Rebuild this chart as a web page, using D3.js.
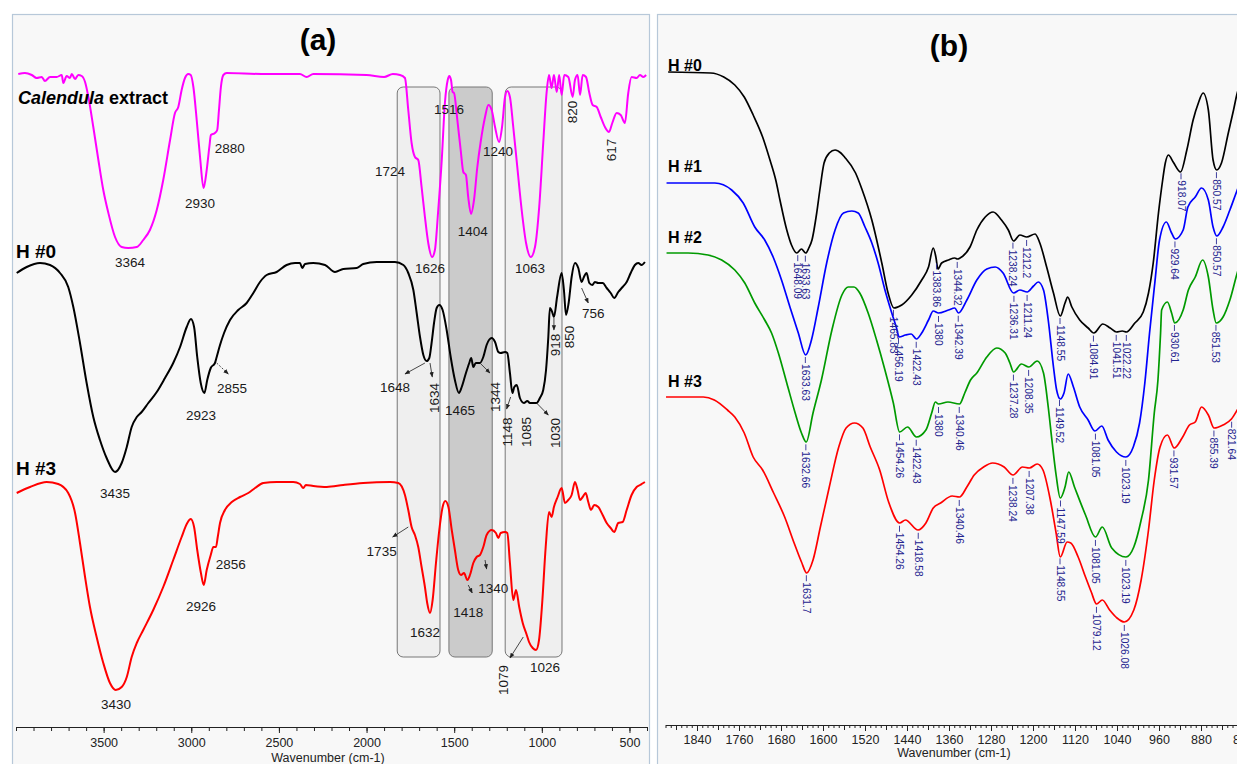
<!DOCTYPE html>
<html><head><meta charset="utf-8">
<script src="https://cdn.jsdelivr.net/npm/d3@7"></script>
<style>body{margin:0;background:#fff;} svg{display:block;font-family:"Liberation Sans",Arial,sans-serif;}</style>
</head><body><svg id="c" width="1237" height="764"></svg>
<script>
// ---------- Panel (a) data: [wavenumber, transmittance (a.u., offset)] ----------
const calendulaA = [[3987,65.3],[3949,65.4],[3910,65.2],[3882,64.9],[3853,65.0],[3835,64.6],[3806,65.0],[3768,65.0],[3739,65.2],[3730,64.4],[3711,65.1],[3692,64.9],[3682,65.3],[3663,64.8],[3645,65.2],[3625,65.1],[3606,64.5],[3587,63.0],[3559,60.0],[3530,56.7],[3502,53.7],[3473,51.4],[3435,49.0],[3397,48.0],[3360,47.9],[3311,48.0],[3274,48.7],[3236,49.7],[3197,51.7],[3160,54.7],[3121,58.7],[3093,61.4],[3074,62.0],[3055,63.7],[3036,64.9],[3017,65.3],[3003,65.2],[2988,64.0],[2969,60.7],[2950,57.0],[2930,53.9],[2912,55.7],[2897,58.0],[2888,59.2],[2865,59.4],[2852,59.7],[2842,61.7],[2831,64.0],[2817,65.2],[2798,65.4],[2600,65.3],[2380,65.3],[2342,65.0],[2304,65.3],[2000,65.2],[1900,65.0],[1850,65.3],[1809,65.2],[1781,64.9],[1762,61.7],[1743,58.4],[1724,57.0],[1705,56.7],[1686,54.0],[1667,51.0],[1648,48.4],[1626,47.0],[1610,47.7],[1591,51.7],[1571,56.7],[1553,62.4],[1537,64.7],[1528,65.1],[1518,64.7],[1509,63.5],[1501,63.4],[1482,60.7],[1463,57.7],[1448,55.5],[1433,55.2],[1420,53.0],[1404,51.3],[1387,52.7],[1368,56.0],[1349,58.5],[1324,61.0],[1305,62.2],[1286,61.7],[1267,60.0],[1244,58.5],[1227,60.0],[1210,63.0],[1197,63.6],[1182,63.0],[1163,60.0],[1140,56.0],[1115,51.7],[1090,48.4],[1063,47.0],[1039,48.0],[1015,52.0],[992,58.4],[973,63.4],[959,65.2],[944,63.9],[931,65.2],[915,63.5],[901,65.2],[887,63.2],[872,65.2],[849,65.0],[824,63.0],[811,64.7],[796,65.2],[782,63.2],[767,65.2],[748,65.0],[729,63.4],[710,62.2],[687,62.0],[664,61.0],[640,60.0],[617,59.5],[598,60.4],[573,61.4],[550,61.2],[526,60.4],[507,63.4],[488,65.0],[459,64.9],[440,65.2],[421,65.0],[405,65.2]];
const h0A = [[3996,45.4],[3939,46.0],[3863,46.4],[3806,46.2],[3749,45.4],[3702,44.0],[3673,42.0],[3635,38.4],[3597,34.4],[3559,31.0],[3521,28.7],[3483,26.9],[3435,25.5],[3397,26.4],[3368,28.0],[3340,30.0],[3311,31.0],[3283,31.5],[3245,32.4],[3197,33.5],[3150,34.9],[3103,36.4],[3064,38.0],[3026,40.0],[3002,40.8],[2984,40.0],[2966,37.0],[2946,34.4],[2925,33.4],[2909,34.7],[2889,35.9],[2865,36.4],[2855,37.0],[2836,38.2],[2813,39.4],[2779,40.7],[2732,41.7],[2684,42.4],[2646,43.4],[2608,44.5],[2570,45.2],[2513,45.5],[2456,46.2],[2408,46.4],[2380,46.4],[2367,45.9],[2351,46.3],[2304,46.4],[2237,46.2],[2180,45.5],[2133,45.8],[2056,45.9],[2019,46.3],[1942,46.5],[1838,46.5],[1790,46.2],[1762,45.4],[1733,43.7],[1714,41.4],[1695,39.0],[1676,37.2],[1657,36.6],[1642,36.9],[1629,38.4],[1615,40.4],[1600,41.9],[1585,42.2],[1566,41.7],[1543,39.7],[1520,37.0],[1496,34.7],[1473,33.4],[1457,34.0],[1433,35.4],[1414,36.4],[1403,36.9],[1391,36.0],[1377,36.4],[1353,36.4],[1334,37.0],[1315,38.2],[1286,38.9],[1267,38.5],[1248,37.5],[1235,37.4],[1210,37.5],[1197,37.4],[1182,35.4],[1168,33.4],[1157,34.0],[1143,34.2],[1125,32.9],[1102,32.4],[1083,32.6],[1068,32.4],[1049,32.4],[1030,32.4],[1011,32.9],[992,33.7],[976,35.7],[963,39.0],[954,41.9],[941,41.5],[931,41.0],[913,43.0],[887,45.4],[874,43.7],[862,41.2],[847,42.4],[830,45.0],[811,46.4],[792,45.9],[773,44.5],[760,45.0],[745,45.4],[729,44.4],[712,44.2],[697,44.5],[678,44.4],[653,44.4],[630,43.9],[607,43.4],[587,42.9],[564,43.5],[539,44.0],[516,44.5],[493,45.4],[469,46.2],[450,46.4],[431,46.2],[412,46.5]];
const h3A = [[3996,23.4],[3920,24.0],[3825,24.5],[3759,24.3],[3702,23.4],[3663,21.4],[3635,18.4],[3606,15.0],[3578,12.0],[3540,9.0],[3502,6.4],[3464,4.4],[3431,3.7],[3397,4.0],[3368,5.0],[3340,7.0],[3311,8.4],[3274,9.7],[3217,11.7],[3160,14.0],[3103,16.7],[3055,19.0],[3023,20.4],[3003,20.8],[2984,20.0],[2966,17.7],[2945,15.4],[2929,14.2],[2912,15.7],[2889,17.2],[2874,18.0],[2859,18.0],[2849,19.0],[2836,20.4],[2808,21.7],[2769,22.5],[2722,23.0],[2675,23.4],[2636,23.9],[2589,24.4],[2513,24.5],[2418,24.5],[2380,24.3],[2361,23.9],[2346,24.2],[2304,24.1],[2227,24.0],[2133,24.2],[2019,24.4],[1866,24.5],[1819,24.4],[1781,23.2],[1762,21.7],[1743,20.0],[1724,19.2],[1705,18.0],[1686,16.0],[1667,14.0],[1654,12.4],[1638,11.4],[1623,12.7],[1604,16.4],[1585,19.7],[1566,22.0],[1551,22.6],[1533,22.0],[1514,19.7],[1496,17.7],[1477,15.7],[1461,15.2],[1444,15.4],[1425,14.7],[1410,15.2],[1391,16.4],[1372,17.0],[1353,17.2],[1334,18.0],[1315,19.2],[1286,19.7],[1262,19.4],[1248,18.9],[1235,19.4],[1210,19.5],[1197,19.4],[1182,16.4],[1163,12.7],[1147,13.7],[1129,12.0],[1109,10.4],[1086,9.2],[1073,8.5],[1052,7.9],[1033,7.7],[1016,8.7],[998,12.4],[978,18.0],[959,21.5],[944,21.0],[931,22.0],[910,23.0],[887,23.9],[868,22.4],[849,22.7],[830,23.2],[811,24.5],[796,23.7],[782,22.7],[767,23.0],[750,23.4],[735,22.5],[720,21.7],[701,22.2],[678,22.0],[653,21.2],[630,20.4],[607,19.9],[587,19.5],[564,20.4],[539,20.5],[516,21.7],[488,23.2],[459,24.0],[440,24.2],[421,24.4],[412,24.5]];

// shaded band regions (wavenumber from, to) and vertical extent
const bandRanges = [[1825,1581],[1530,1283],[1209,885]];
const bandTop = 64.0, bandBottom = 7.0;

// panel (a) peak labels: [text, wavenumber, value, rotated]
const peakLabelsA = [
 ["2880",2781,57.9,0],["2930",2950,52.4,0],["3364",3350,46.5,0],["1724",1866,55.6,0],["1516",1530,61.8,0],
 ["1626",1638,45.9,0],["1404",1394,49.6,0],["1240",1250,57.6,0],["1063",1068,45.9,0],["820",824,61.5,1],["617",605,57.7,1],
 ["2923",2945,31.2,0],["2855",2768,33.9,0],["3435",3435,23.4,0],["1648",1838,34.0,0],["1634",1610,32.9,1],["1465",1467,31.7,0],
 ["1344",1267,33.0,1],["1148",1195,29.5,1],["1085",1087,29.5,1],["1030",921,29.4,1],["918",921,38.2,1],["850",843,39.0,1],["756",706,41.4,0],
 ["3430",3430,2.3,0],["2926",2945,12.1,0],["2856",2775,16.3,0],["1735",1914,17.6,0],["1632",1667,9.5,0],["1418",1420,11.5,0],
 ["1340",1277,13.9,0],["1079",1220,4.7,1],["1026",982,6.0,0]
];
// arrows: [w1, v1, w2, v2, dashed]
const arrowsA = [
 [2855,36.4,2789,35.3,1],[1667,36.4,1781,35.3,0],[1638,36.4,1625,35.0,0],[1353,36.4,1296,35.4,0],[1178,33.0,1201,31.8,0],
 [1030,32.4,963,31.2,0],[931,40.9,931,39.7,0],[773,43.9,735,42.4,0],[1762,20.0,1851,19.0,0],[1420,14.2,1397,13.4,0],
 [1324,16.7,1315,15.8,0],[1106,9.0,1182,6.9,0]
];
const xTicksA = [3500,3000,2500,2000,1500,1000,500];

// ---------- Panel (b) data ----------
const h0B = [[1895,65.3],[1814,65.2],[1789,64.8],[1768,64.0],[1750,62.8],[1733,61.0],[1715,58.8],[1701,56.5],[1690,54.5],[1682,52.5],[1669,49.5],[1660,48.0],[1650,47.2],[1641,47.6],[1633,47.2],[1627,47.7],[1621,48.5],[1612,51.2],[1606,53.5],[1598,56.2],[1588,57.2],[1577,57.5],[1566,57.2],[1559,56.8],[1538,55.2],[1526,53.6],[1507,50.5],[1488,46.2],[1476,43.2],[1465,41.7],[1450,42.0],[1431,43.0],[1412,44.5],[1399,45.8],[1390,47.7],[1385,46.8],[1381,45.6],[1374,46.2],[1361,46.5],[1349,46.7],[1344,46.6],[1339,46.7],[1320,47.8],[1307,49.5],[1291,50.8],[1276,51.3],[1260,50.5],[1247,49.5],[1237,48.4],[1225,49.0],[1212,48.8],[1196,49.1],[1187,48.2],[1174,45.8],[1161,43.2],[1148,40.9],[1139,42.2],[1134,42.8],[1126,41.8],[1111,40.5],[1095,39.7],[1084,39.2],[1067,40.1],[1053,39.7],[1041,39.3],[1030,39.4],[1022,39.3],[1006,40.2],[990,41.3],[980,43.2],[971,46.2],[961,51.2],[953,54.5],[948,56.2],[942,57.0],[933,56.3],[919,55.3],[907,57.5],[895,60.5],[885,62.2],[876,63.2],[866,61.5],[857,56.5],[850,55.5],[841,56.2],[828,59.2],[818,61.5],[811,63.2],[800,64.5]];
const h1B = [[1898,54.2],[1857,54.2],[1806,54.2],[1774,53.5],[1752,52.2],[1730,49.8],[1711,48.5],[1695,46.8],[1679,44.5],[1663,41.8],[1647,39.2],[1633,37.0],[1622,38.5],[1609,41.8],[1593,46.2],[1577,49.5],[1561,51.2],[1545,51.4],[1533,51.2],[1520,49.8],[1507,48.2],[1495,46.2],[1482,43.5],[1469,41.2],[1460,39.7],[1455,38.8],[1443,39.0],[1432,39.1],[1422,38.6],[1412,39.2],[1399,40.5],[1390,41.4],[1380,41.2],[1361,41.5],[1349,41.7],[1342,41.2],[1326,42.5],[1307,44.5],[1288,45.6],[1272,45.8],[1257,45.2],[1237,43.2],[1225,43.5],[1211,43.3],[1199,43.9],[1190,44.3],[1180,43.5],[1171,40.5],[1161,35.8],[1155,33.5],[1148,32.6],[1141,33.2],[1133,35.1],[1123,33.8],[1111,31.8],[1095,30.5],[1082,29.4],[1069,29.9],[1057,28.5],[1041,27.3],[1023,26.8],[1009,27.8],[997,30.2],[987,34.2],[978,39.2],[968,44.2],[959,48.5],[946,50.3],[936,49.2],[929,48.6],[914,49.5],[905,51.8],[891,52.8],[879,53.7],[866,52.5],[857,49.8],[850,48.9],[838,49.8],[825,51.5],[811,53.5],[800,55.0]];
const h2B = [[1898,47.2],[1857,47.2],[1819,47.0],[1793,46.5],[1768,45.5],[1749,44.2],[1730,42.2],[1711,40.5],[1698,39.2],[1685,37.2],[1669,34.2],[1653,31.2],[1641,29.2],[1632,28.3],[1619,31.2],[1603,34.5],[1583,39.5],[1564,43.0],[1552,43.8],[1541,43.8],[1530,43.2],[1514,41.2],[1498,38.5],[1482,35.5],[1466,32.2],[1454,29.3],[1439,29.8],[1422,28.8],[1404,29.5],[1393,31.2],[1386,32.3],[1380,32.1],[1362,32.3],[1340,32.1],[1330,33.2],[1319,34.5],[1307,35.2],[1288,36.8],[1269,37.7],[1253,37.2],[1244,36.2],[1237,35.3],[1222,36.1],[1208,35.8],[1192,36.4],[1180,35.2],[1171,31.8],[1164,28.5],[1156,25.0],[1148,22.7],[1139,23.8],[1132,25.3],[1121,23.8],[1100,21.0],[1081,18.8],[1068,19.8],[1050,17.7],[1023,16.8],[1008,17.8],[994,20.5],[980,24.5],[969,31.2],[962,34.5],[957,39.2],[955,41.5],[944,42.3],[936,41.2],[930,40.2],[914,41.5],[904,43.5],[891,44.8],[877,46.5],[866,44.8],[857,41.5],[851,40.2],[838,40.8],[825,42.5],[811,45.2],[800,47.0]];
const h3B = [[1899,32.8],[1828,32.8],[1807,32.5],[1782,31.5],[1768,30.8],[1750,29.2],[1733,26.8],[1715,25.5],[1694,23.2],[1673,20.8],[1655,18.2],[1641,16.3],[1631,15.2],[1619,16.5],[1605,19.8],[1588,23.8],[1570,27.8],[1556,29.7],[1540,30.2],[1524,29.7],[1510,27.8],[1492,25.5],[1475,22.3],[1454,20.2],[1443,20.5],[1419,19.5],[1404,20.2],[1390,21.7],[1376,22.2],[1354,22.9],[1340,22.8],[1326,23.8],[1312,25.0],[1294,25.8],[1277,26.2],[1255,25.8],[1238,25.0],[1220,25.8],[1207,25.7],[1192,26.1],[1181,25.5],[1167,22.5],[1156,19.2],[1148,16.8],[1135,18.3],[1128,18.2],[1114,16.8],[1100,14.8],[1089,13.3],[1079,12.1],[1068,12.5],[1054,11.5],[1040,10.7],[1026,10.3],[1008,11.5],[994,14.5],[980,19.5],[969,24.5],[958,27.8],[944,29.0],[931,27.7],[916,28.7],[902,30.0],[891,30.3],[879,31.8],[866,31.0],[855,29.7],[838,30.0],[822,30.6],[811,31.5],[800,32.5]];

const peaksH0B = ["1648.09","1633.63","1465.83","1383.86","1344.32","1238.24","1212.2","1148.55","1084.91","1041.51","1022.22","918.07","850.57"];
const peaksH1B = ["1633.63","1456.19","1422.43","1380","1342.39","1236.31","1211.24","1149.52","1081.05","1023.19","929.64","850.57"];
const peaksH2B = ["1632.66","1454.26","1422.43","1380","1340.46","1237.28","1208.35","1147.59","1081.05","1023.19","930.61","851.53"];
const peaksH3B = ["1631.7","1454.26","1418.58","1340.46","1238.24","1207.38","1148.55","1079.12","1026.08","931.57","855.39","821.64"];
const xTicksB = [1840,1760,1680,1600,1520,1440,1360,1280,1200,1120,1040,960,880,800];

// ---------- drawing ----------
const svg = d3.select("#c");
const FONT = '"Liberation Sans", Arial, sans-serif';
const fmt = d3.format("d");

svg.append("rect").attr("x",12.5).attr("y",14.5).attr("width",637).attr("height",770)
  .attr("fill","#f8f8f8").attr("stroke","#b7c8d9").attr("stroke-width",1.2);
svg.append("rect").attr("x",657.5).attr("y",14.5).attr("width",640).attr("height",770)
  .attr("fill","#f8f8f8").attr("stroke","#b7c8d9").attr("stroke-width",1.2);

const defs = svg.append("defs");
defs.append("marker").attr("id","ah").attr("viewBox","0 0 10 10").attr("refX",9).attr("refY",5)
  .attr("markerWidth",6).attr("markerHeight",6).attr("orient","auto-start-reverse")
  .append("path").attr("d","M0,1 L10,5 L0,9 z").attr("fill","#222");

// Panel (a)
const xA = d3.scaleLinear().domain([4000,400]).range([16,647]);
const yA = d3.scaleLinear().domain([0,70]).range([727,27]);
const gA = svg.append("g");

const bandFill = ["#efefef","#cbcbcb","#efefef"];
gA.selectAll("rect.band").data(bandRanges).join("rect").attr("class","band")
  .attr("x",d=>xA(d[0])).attr("width",d=>xA(d[1])-xA(d[0]))
  .attr("y",yA(bandTop)).attr("height",yA(bandBottom)-yA(bandTop))
  .attr("rx",6).attr("ry",6)
  .attr("fill",(d,i)=>bandFill[i]).attr("stroke","#777").attr("stroke-width",1);

const lineA = d3.line().x(d=>xA(d[0])).y(d=>yA(d[1])).curve(d3.curveMonotoneX);
[[calendulaA,"#ff00ff"],[h0A,"#000000"],[h3A,"#ff0000"]].forEach(([d,c])=>{
  gA.append("path").datum(d).attr("d",lineA).attr("fill","none").attr("stroke",c).attr("stroke-width",2).attr("stroke-linejoin","round");
});

gA.selectAll("line.arr").data(arrowsA).join("line").attr("class","arr")
  .attr("x1",d=>xA(d[0])).attr("y1",d=>yA(d[1])).attr("x2",d=>xA(d[2])).attr("y2",d=>yA(d[3]))
  .attr("stroke","#333").attr("stroke-width",0.9).attr("stroke-dasharray",d=>d[4]?"2,1.5":null)
  .attr("marker-end","url(#ah)");

gA.selectAll("text.pk").data(peakLabelsA).join("text").attr("class","pk")
  .attr("transform",d=>`translate(${xA(d[1])},${yA(d[2])})`+(d[3]?" rotate(-90)":""))
  .attr("text-anchor","middle").attr("dominant-baseline","central")
  .attr("font-size",13.5).attr("fill","#1a1a1a").attr("font-family",FONT).text(d=>d[0]);

// axis (a)
const axA = gA.append("g").attr("transform",`translate(0,${yA(0)})`);
axA.call(d3.axisBottom(xA).tickValues(d3.range(4000,399,-100)).tickSize(4).tickSizeOuter(0).tickFormat(""));
const axA2 = gA.append("g").attr("transform",`translate(0,${yA(0)})`);
axA2.call(d3.axisBottom(xA).tickValues(xTicksA).tickSize(6).tickSizeOuter(0).tickPadding(5).tickFormat(fmt));
axA2.selectAll("text").attr("font-size",12.5).attr("font-family",FONT).attr("fill","#222");
axA.select(".domain").attr("stroke","#222");
axA2.select(".domain").remove();
gA.selectAll(".tick line").attr("stroke","#222");
gA.append("text").attr("x",328).attr("y",762).attr("text-anchor","middle").attr("font-size",12.5)
  .attr("font-family",FONT).attr("fill","#222").text("Wavenumber (cm-1)");

// titles / series labels (a)
gA.append("text").attr("x",318).attr("y",50).attr("text-anchor","middle").attr("font-size",30).attr("font-weight","bold").attr("font-family",FONT).text("(a)");
const cal = gA.append("text").attr("x",18).attr("y",104).attr("font-size",18).attr("font-weight","bold").attr("font-family",FONT);
cal.append("tspan").attr("font-style","italic").text("Calendula");
cal.append("tspan").text(" extract");
gA.append("text").attr("x",16).attr("y",258).attr("font-size",19).attr("font-weight","bold").attr("font-family",FONT).text("H #0");
gA.append("text").attr("x",16).attr("y",475).attr("font-size",19).attr("font-weight","bold").attr("font-family",FONT).text("H #3");

// Panel (b)
const xB = d3.scaleLinear().domain([1900,780]).range([665.5,1253.5]);
const yB = d3.scaleLinear().domain([0,70]).range([725,25]);
const gB = svg.append("g");
const lineB = d3.line().x(d=>xB(d[0])).y(d=>yB(d[1])).curve(d3.curveMonotoneX);
const seriesB = [[h0B,"#000000",peaksH0B],[h1B,"#0000ff",peaksH1B],[h2B,"#009a00",peaksH2B],[h3B,"#ff0000",peaksH3B]];

function interp(data, w){
  for(let i=0;i<data.length-1;i++){
    const a=data[i], b=data[i+1];
    if(w<=a[0] && w>=b[0]){ const t=(a[0]-w)/(a[0]-b[0]); return a[1]+(b[1]-a[1])*t; }
  }
  return data[data.length-1][1];
}
seriesB.forEach(([d,c,pk])=>{
  gB.append("path").datum(d).attr("d",lineB).attr("fill","none").attr("stroke",c).attr("stroke-width",1.7).attr("stroke-linejoin","round");
});
seriesB.forEach(([d,c,pk])=>{
  const g = gB.append("g");
  pk.forEach(s=>{
    const w=+s, x=xB(w), y0=yB(interp(d,w))+3;
    g.append("line").attr("x1",x).attr("x2",x).attr("y1",y0).attr("y2",y0+6).attr("stroke","#2b2b95").attr("stroke-width",0.9);
    g.append("text").attr("transform",`translate(${x},${y0+7}) rotate(90)`).attr("dominant-baseline","central")
      .attr("font-size",10.2).attr("fill","#23238f").attr("font-family",FONT).text(s);
  });
});

// axis (b)
const axB = gB.append("g").attr("transform",`translate(0,${yB(0)})`);
axB.call(d3.axisBottom(xB).tickValues(d3.range(1900,779,-10)).tickSize(3).tickFormat("").tickSizeOuter(0));
axB.select(".domain").attr("stroke","#222");
const axB1 = gB.append("g").attr("transform",`translate(0,${yB(0)})`);
axB1.call(d3.axisBottom(xB).tickValues(d3.range(1880,779,-40)).tickSize(5).tickFormat("").tickSizeOuter(0));
axB1.select(".domain").remove();
const axB2 = gB.append("g").attr("transform",`translate(0,${yB(0)})`);
axB2.call(d3.axisBottom(xB).tickValues(xTicksB).tickSize(6).tickSizeOuter(0).tickPadding(4).tickFormat(fmt));
axB2.select(".domain").remove();
axB2.selectAll("text").attr("font-size",12.5).attr("font-family",FONT).attr("fill","#222");
gB.selectAll(".tick line").attr("stroke","#222");
gB.append("text").attr("x",954).attr("y",757).attr("text-anchor","middle").attr("font-size",12.5)
  .attr("font-family",FONT).attr("fill","#222").text("Wavenumber (cm-1)");

gB.append("text").attr("x",949).attr("y",56).attr("text-anchor","middle").attr("font-size",30).attr("font-weight","bold").attr("font-family",FONT).text("(b)");
[["H #0",71],["H #1",172],["H #2",243],["H #3",387]].forEach(([t,y])=>{
  gB.append("text").attr("x",668).attr("y",y).attr("font-size",16).attr("font-weight","bold").attr("font-family",FONT).text(t);
});
</script></body></html>
